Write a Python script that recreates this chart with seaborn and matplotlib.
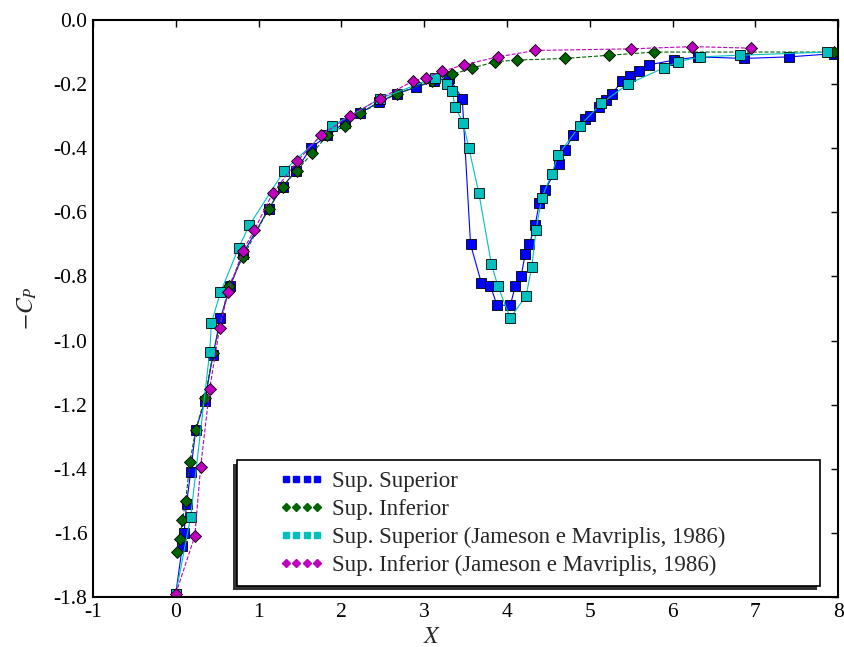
import matplotlib
matplotlib.use("Agg")
import matplotlib.pyplot as plt
from matplotlib.lines import Line2D
from matplotlib.patches import Rectangle
import seaborn as sns

# Sup. Superior (present solution)
sup_x = [0.0, 0.08, 0.10, 0.13, 0.18, 0.24, 0.35, 0.45, 0.54, 0.66, 0.81, 1.12, 1.29, 1.45,
         1.63, 1.83, 2.04, 2.23, 2.46, 2.67, 2.90, 3.12, 3.30, 3.46, 3.56, 3.69, 3.80, 3.88,
         4.04, 4.10, 4.17, 4.22, 4.27, 4.34, 4.39, 4.46, 4.63, 4.70, 4.80, 4.94, 5.00, 5.11,
         5.19, 5.27, 5.39, 5.49, 5.60, 5.71, 6.02, 6.31, 6.86, 7.41, 7.95]
sup_y = [-1.79, -1.64, -1.60, -1.51, -1.41, -1.28, -1.19, -1.045, -0.93, -0.83, -0.73, -0.59,
         -0.52, -0.47, -0.40, -0.36, -0.32, -0.29, -0.255, -0.23, -0.21, -0.19, -0.18, -0.245,
         -0.70, -0.82, -0.83, -0.89, -0.89, -0.83, -0.80, -0.73, -0.70, -0.64, -0.57, -0.53,
         -0.45, -0.405, -0.36, -0.31, -0.30, -0.27, -0.25, -0.23, -0.19, -0.175, -0.16, -0.14,
         -0.125, -0.115, -0.12, -0.115, -0.105]

# Sup. Inferior (present solution)
inf_x = [0.02, 0.05, 0.08, 0.12, 0.17, 0.24, 0.35, 0.45, 0.64, 0.81, 1.12, 1.29, 1.46, 1.65,
         1.83, 2.04, 2.23, 2.67, 3.10, 3.34, 3.58, 3.86, 4.12, 4.70, 5.23, 5.78, 7.95]
inf_y = [-1.66, -1.62, -1.56, -1.50, -1.38, -1.28, -1.18, -1.04, -0.83, -0.74, -0.59, -0.52,
         -0.47, -0.415, -0.36, -0.33, -0.29, -0.23, -0.19, -0.17, -0.15, -0.13, -0.125, -0.12,
         -0.11, -0.10, -0.10]

# Jameson e Mavriplis (1986), upper surface
jsup_x = [0.0, 0.18, 0.41, 0.43, 0.54, 0.76, 0.89, 1.31, 1.89, 2.47, 3.13, 3.28, 3.34, 3.37,
          3.47, 3.54, 3.66, 3.81, 3.89, 4.04, 4.23, 4.30, 4.35, 4.42, 4.54, 4.62, 4.88, 5.14,
          5.46, 5.89, 6.07, 6.33, 6.81, 7.87]
jsup_y = [-1.79, -1.55, -1.035, -0.945, -0.85, -0.71, -0.64, -0.47, -0.33, -0.245, -0.18,
          -0.20, -0.22, -0.27, -0.32, -0.40, -0.54, -0.76, -0.83, -0.93, -0.86, -0.77, -0.655,
          -0.555, -0.48, -0.42, -0.33, -0.26, -0.20, -0.15, -0.13, -0.115, -0.11, -0.10]

# Jameson e Mavriplis (1986), lower surface
jinf_x = [0.0, 0.23, 0.30, 0.41, 0.53, 0.63, 0.81, 0.95, 1.17, 1.47, 1.75, 2.10, 2.47, 2.87,
          3.02, 3.22, 3.48, 3.89, 4.34, 5.50, 6.24, 6.95]
jinf_y = [-1.79, -1.61, -1.395, -1.15, -0.96, -0.85, -0.72, -0.655, -0.54, -0.44, -0.36,
          -0.30, -0.245, -0.19, -0.18, -0.16, -0.14, -0.115, -0.095, -0.09, -0.083, -0.088]

labels = ["Sup. Superior", "Sup. Inferior",
          "Sup. Superior (Jameson e Mavriplis, 1986)",
          "Sup. Inferior (Jameson e Mavriplis, 1986)"]
colors = ["#0000ff", "#006400", "#00bfbf", "#bf00bf"]

sns.set_style("white")
plt.rcParams["font.family"] = ["Liberation Serif", "DejaVu Serif"]
plt.rcParams["mathtext.fontset"] = "stix"
plt.rcParams["axes.unicode_minus"] = False

fig = plt.figure(figsize=(8.45, 6.47), dpi=100)
ax = fig.add_axes([0.110, 0.0773, 0.882, 0.8918])

series = [(sup_x, sup_y, "s", "-", 7.5), (inf_x, inf_y, "D", "--", 6.3),
          (jsup_x, jsup_y, "s", "-", 7.5), (jinf_x, jinf_y, "D", "--", 6.3)]
for (xs, ys, mk, ls, ms), c in zip(series, colors):
    sns.lineplot(x=xs, y=ys, ax=ax, sort=False, estimator=None, color=c,
                 linestyle=ls, linewidth=0.8, marker=mk, markersize=ms,
                 markeredgecolor="black", markeredgewidth=0.6)

ax.set_xlim(-1, 8)
ax.set_ylim(-1.8, 0.0)
ax.set_xticks(range(-1, 9))
ax.set_yticks([0.0, -0.2, -0.4, -0.6, -0.8, -1.0, -1.2, -1.4, -1.6, -1.8])
ax.set_yticklabels(["0.0", "-0.2", "-0.4", "-0.6", "-0.8", "-1.0", "-1.2", "-1.4", "-1.6", "-1.8"])
ax.tick_params(direction="in", top=True, right=True, length=5, width=1,
               labelsize=15.5, pad=4, colors="black")
for s in ax.spines.values():
    s.set_color("black")
    s.set_linewidth(1.5)

ax.set_xlabel("$X$", fontsize=17)
ax.set_ylabel("$-C_P$", fontsize=17)
ax.xaxis.set_label_coords(0.455, -0.052)
ax.yaxis.set_label_coords(-0.072, 0.5)

# legend box with shadow, drawn like the old matplotlib style
ax.add_patch(Rectangle((0.188, 0.012), 0.783, 0.218, transform=ax.transAxes,
                       facecolor="#333333", edgecolor="none", zorder=9))
ax.add_patch(Rectangle((0.193, 0.019), 0.783, 0.218, transform=ax.transAxes,
                       facecolor="white", edgecolor="black", linewidth=1.2, zorder=10))

handles = [Line2D([], [], linestyle="none", marker=m, color=c, markersize=3.8,
                  markeredgecolor=c)
           for m, c in zip(["s", "D", "s", "D"], colors)]
leg = ax.legend(handles, labels, loc="upper left", bbox_to_anchor=(0.250, 0.219),
                frameon=False, numpoints=4, fontsize=16.5, handlelength=1.95,
                handletextpad=0.35, labelspacing=0.3, borderpad=0, borderaxespad=0)
leg.set_zorder(11)

fig.savefig("out.png", dpi=100)
